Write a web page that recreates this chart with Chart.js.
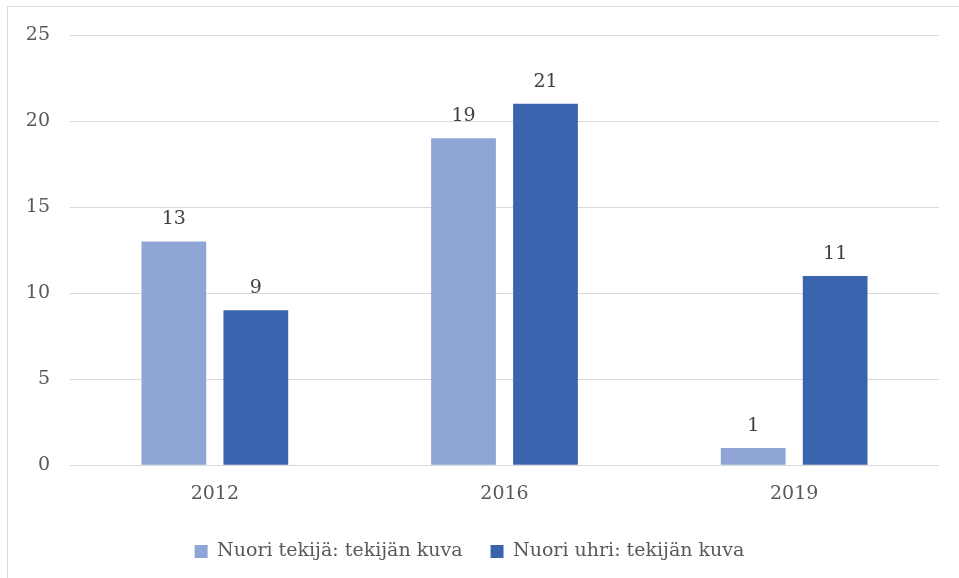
<!DOCTYPE html>
<html>
<head>
<meta charset="utf-8">
<script src="https://cdn.jsdelivr.net/npm/chart.js@4/dist/chart.umd.min.js"></script>
<style>
  html, body { margin: 0; padding: 0; background: #fff; }
  #wrap { position: relative; width: 959px; height: 578px; }
  #frame { position: absolute; left: 7px; top: 6px; right: -2px; bottom: -2px; border: 1px solid #d9d9d9; }
  canvas { position: absolute; left: 0; top: 0; }
</style>
</head>
<body>
<div id="wrap">
  <div id="frame"></div>
  <canvas id="chart" width="959" height="578"></canvas>
</div>
<script>
const years = ["2012", "2016", "2019"];
const tekijaValues = [13, 19, 1];
const uhriValues = [9, 21, 11];
const seriesNames = ["Nuori tekijä: tekijän kuva", "Nuori uhri: tekijän kuva"];

const fontFamily = "'DejaVu Serif', serif";

// simple value labels above the bars
const valueLabels = {
  id: "valueLabels",
  afterDatasetsDraw(chart) {
    const ctx = chart.ctx;
    ctx.save();
    ctx.font = "19px " + fontFamily;
    ctx.fillStyle = "#404040";
    ctx.textAlign = "center";
    ctx.textBaseline = "alphabetic";
    chart.data.datasets.forEach((ds, i) => {
      chart.getDatasetMeta(i).data.forEach((bar, j) => {
        ctx.fillText(String(ds.data[j]), bar.x, bar.y - 17);
      });
    });
    ctx.restore();
  },
};

new Chart(document.getElementById("chart"), {
  type: "bar",
  data: {
    labels: years,
    datasets: [
      {
        label: seriesNames[0],
        data: tekijaValues,
        backgroundColor: "#8FA5D6",
        barPercentage: 0.79,
        categoryPercentage: 0.566,
      },
      {
        label: seriesNames[1],
        data: uhriValues,
        backgroundColor: "#3A64AD",
        barPercentage: 0.79,
        categoryPercentage: 0.566,
      },
    ],
  },
  options: {
    responsive: false,
    animation: false,
    layout: {
      padding: { top: 35, right: 20, bottom: 7, left: 0 },
    },
    scales: {
      x: {
        grid: { display: false },
        border: { display: false },
        ticks: {
          color: "#595959",
          font: { family: fontFamily, size: 19 },
          padding: 9,
        },
      },
      y: {
        min: 0,
        max: 25,
        afterFit(scale) {
          scale.width = 70;
        },
        grid: { color: "#d9d9d9", lineWidth: 1, drawTicks: false },
        border: { display: false },
        ticks: {
          stepSize: 5,
          color: "#595959",
          font: { family: fontFamily, size: 19 },
          padding: 20,
        },
      },
    },
    plugins: {
      legend: {
        position: "bottom",
        labels: {
          boxWidth: 13,
          boxHeight: 13,
          padding: 28,
          color: "#595959",
          font: { family: fontFamily, size: 19 },
        },
      },
      tooltip: { enabled: false },
    },
  },
  plugins: [valueLabels],
});
</script>
</body>
</html>
